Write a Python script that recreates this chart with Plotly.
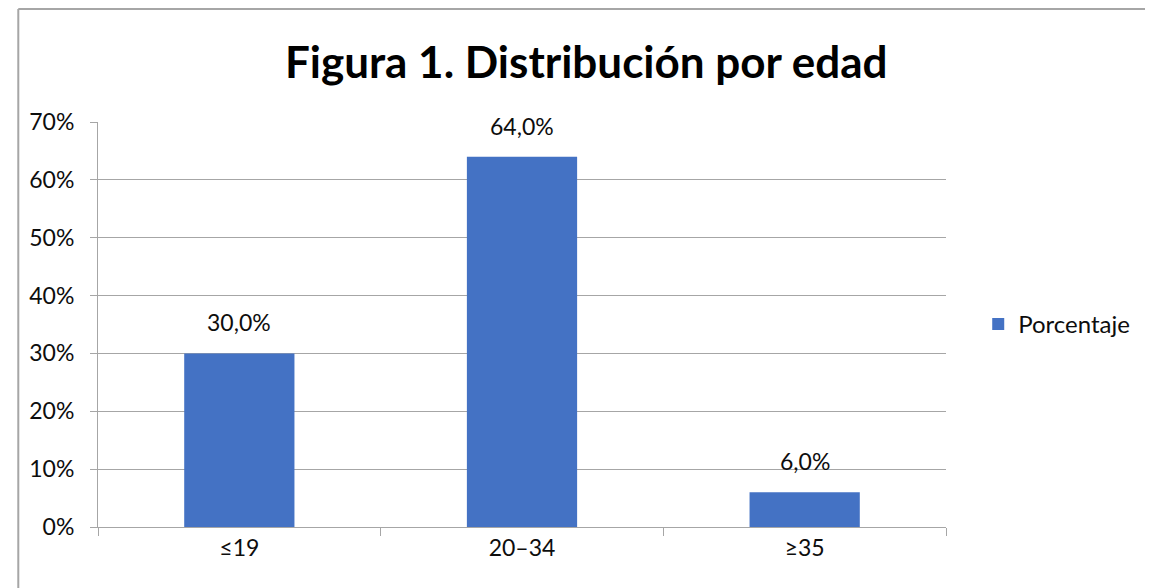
import plotly.graph_objects as go

categorias = ["≤19", "20–34", "≥35"]
porcentajes = [30.0, 64.0, 6.0]
etiquetas = [f"{v:.1f}%".replace(".", ",") for v in porcentajes]

font_fam = "Lato, Open Sans, sans-serif"
gris = "#a6a6a6"
texto = "#0d0d0d"

fig = go.Figure()
fig.add_trace(go.Bar(
    x=categorias, y=[v / 100 for v in porcentajes],
    name="Porcentaje",
    marker=dict(color="#4472c4", line=dict(width=0)),
))

# data labels sit well above the bars, so use annotations
for cat, val, lab in zip(categorias, porcentajes, etiquetas):
    fig.add_annotation(x=cat, y=val / 100, text=lab, showarrow=False,
                       yanchor="bottom", yshift=15,
                       font=dict(size=23, color=texto, family=font_fam))

# body margin of the page adds 8px, so the figure is a bit smaller than the window
fig.update_layout(
    width=1145, height=580,
    title=dict(text="<b>Figura 1. Distribución por edad</b>", x=0.505, xanchor="center",
               y=0.906, yanchor="middle",
               font=dict(size=44, color="#000000", family=font_fam)),
    margin=dict(l=90, r=207, t=114, b=61),
    plot_bgcolor="white", paper_bgcolor="white",
    bargap=0.61,
    showlegend=True,
    legend=dict(x=1.038, y=0.5, xanchor="left", yanchor="middle",
                font=dict(size=24, color=texto, family=font_fam),
                itemwidth=30),
    xaxis=dict(type="category", showline=True, linecolor=gris, linewidth=1,
               ticks="outside", tickson="boundaries", ticklen=8, tickcolor=gris,
               tickfont=dict(size=23, color=texto, family=font_fam)),
    yaxis=dict(range=[0, 0.7], dtick=0.1, tickformat=".0%", showgrid=True,
               gridcolor=gris, gridwidth=1, showline=True, linecolor=gris,
               ticks="outside", ticklen=7, tickcolor=gris, zeroline=False,
               ticklabelstandoff=11,
               tickfont=dict(size=23, color=texto, family=font_fam)),
    shapes=[
        dict(type="line", xref="paper", yref="paper", x0=-0.094, x1=1.3, y0=1.279, y1=1.279,
             line=dict(color=gris, width=2)),
        dict(type="line", xref="paper", yref="paper", x0=-0.094, x1=-0.094, y0=-0.2, y1=1.279,
             line=dict(color=gris, width=2)),
    ],
)

fig.write_html("out.html")
